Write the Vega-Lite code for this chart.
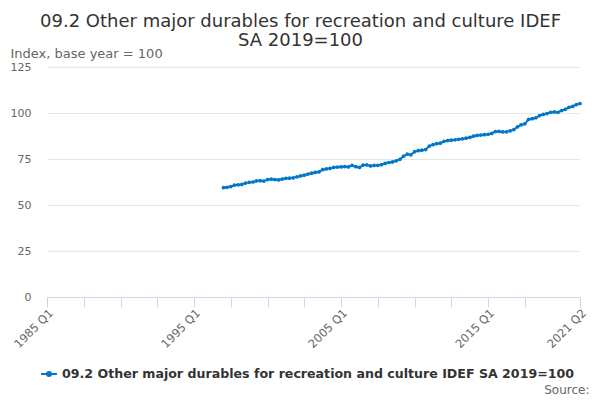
{
  "$schema": "https://vega.github.io/schema/vega-lite/v6.json",
  "width": 533,
  "height": 230,
  "autosize": {"type": "none"},
  "padding": {"left": 47, "top": 67, "right": 20, "bottom": 103},
  "background": "white",
  "config": {
    "font": "DejaVu Sans",
    "view": {"stroke": null}
  },
  "title": {
    "text": ["09.2 Other major durables for recreation and culture IDEF", "SA 2019=100"],
    "fontSize": 18,
    "fontWeight": "normal",
    "color": "#333333",
    "anchor": "middle",
    "frame": "group",
    "dx": -13,
    "offset": -3,
    "lineHeight": 19
  },
  "data": {
    "values": [
      {"date": "1997-01-01", "value": 59.4},
      {"date": "1997-04-01", "value": 59.6},
      {"date": "1997-07-01", "value": 60.0},
      {"date": "1997-10-01", "value": 60.8},
      {"date": "1998-01-01", "value": 61.0},
      {"date": "1998-04-01", "value": 61.2},
      {"date": "1998-07-01", "value": 61.9},
      {"date": "1998-10-01", "value": 62.3},
      {"date": "1999-01-01", "value": 62.5},
      {"date": "1999-04-01", "value": 63.1},
      {"date": "1999-07-01", "value": 63.2},
      {"date": "1999-10-01", "value": 63.0},
      {"date": "2000-01-01", "value": 63.8},
      {"date": "2000-04-01", "value": 64.0},
      {"date": "2000-07-01", "value": 63.8},
      {"date": "2000-10-01", "value": 63.6},
      {"date": "2001-01-01", "value": 64.1},
      {"date": "2001-04-01", "value": 64.5},
      {"date": "2001-07-01", "value": 64.6},
      {"date": "2001-10-01", "value": 64.8},
      {"date": "2002-01-01", "value": 65.3},
      {"date": "2002-04-01", "value": 65.8},
      {"date": "2002-07-01", "value": 66.2},
      {"date": "2002-10-01", "value": 66.8},
      {"date": "2003-01-01", "value": 67.3},
      {"date": "2003-04-01", "value": 67.7},
      {"date": "2003-07-01", "value": 68.0},
      {"date": "2003-10-01", "value": 69.2},
      {"date": "2004-01-01", "value": 69.6},
      {"date": "2004-04-01", "value": 69.9},
      {"date": "2004-07-01", "value": 70.4},
      {"date": "2004-10-01", "value": 70.6},
      {"date": "2005-01-01", "value": 70.7},
      {"date": "2005-04-01", "value": 70.9},
      {"date": "2005-07-01", "value": 70.7},
      {"date": "2005-10-01", "value": 71.5},
      {"date": "2006-01-01", "value": 70.8},
      {"date": "2006-04-01", "value": 70.4},
      {"date": "2006-07-01", "value": 71.7},
      {"date": "2006-10-01", "value": 71.8},
      {"date": "2007-01-01", "value": 71.2},
      {"date": "2007-04-01", "value": 71.5},
      {"date": "2007-07-01", "value": 71.6},
      {"date": "2007-10-01", "value": 71.9},
      {"date": "2008-01-01", "value": 72.6},
      {"date": "2008-04-01", "value": 73.1},
      {"date": "2008-07-01", "value": 73.4},
      {"date": "2008-10-01", "value": 74.0},
      {"date": "2009-01-01", "value": 74.8},
      {"date": "2009-04-01", "value": 76.5},
      {"date": "2009-07-01", "value": 77.6},
      {"date": "2009-10-01", "value": 77.3},
      {"date": "2010-01-01", "value": 79.0},
      {"date": "2010-04-01", "value": 79.5},
      {"date": "2010-07-01", "value": 79.8},
      {"date": "2010-10-01", "value": 80.1},
      {"date": "2011-01-01", "value": 82.0},
      {"date": "2011-04-01", "value": 82.8},
      {"date": "2011-07-01", "value": 83.3},
      {"date": "2011-10-01", "value": 83.6},
      {"date": "2012-01-01", "value": 84.6},
      {"date": "2012-04-01", "value": 85.0},
      {"date": "2012-07-01", "value": 85.2},
      {"date": "2012-10-01", "value": 85.4},
      {"date": "2013-01-01", "value": 85.7},
      {"date": "2013-04-01", "value": 86.0},
      {"date": "2013-07-01", "value": 86.3},
      {"date": "2013-10-01", "value": 86.7},
      {"date": "2014-01-01", "value": 87.4},
      {"date": "2014-04-01", "value": 87.8},
      {"date": "2014-07-01", "value": 88.0},
      {"date": "2014-10-01", "value": 88.2},
      {"date": "2015-01-01", "value": 88.4},
      {"date": "2015-04-01", "value": 88.9},
      {"date": "2015-07-01", "value": 89.9},
      {"date": "2015-10-01", "value": 90.0},
      {"date": "2016-01-01", "value": 89.7},
      {"date": "2016-04-01", "value": 89.8},
      {"date": "2016-07-01", "value": 90.3},
      {"date": "2016-10-01", "value": 91.0},
      {"date": "2017-01-01", "value": 92.5},
      {"date": "2017-04-01", "value": 93.6},
      {"date": "2017-07-01", "value": 94.1},
      {"date": "2017-10-01", "value": 96.5},
      {"date": "2018-01-01", "value": 96.9},
      {"date": "2018-04-01", "value": 97.4},
      {"date": "2018-07-01", "value": 98.6},
      {"date": "2018-10-01", "value": 99.2},
      {"date": "2019-01-01", "value": 99.7},
      {"date": "2019-04-01", "value": 100.4},
      {"date": "2019-07-01", "value": 100.6},
      {"date": "2019-10-01", "value": 100.4},
      {"date": "2020-01-01", "value": 101.3},
      {"date": "2020-04-01", "value": 102.0},
      {"date": "2020-07-01", "value": 103.1},
      {"date": "2020-10-01", "value": 103.6},
      {"date": "2021-01-01", "value": 104.6},
      {"date": "2021-04-01", "value": 105.1}
    ]
  },
  "mark": {
    "type": "line",
    "strokeWidth": 2,
    "point": {"filled": true, "size": 14}
  },
  "encoding": {
    "x": {
      "field": "date",
      "type": "temporal",
      "scale": {
        "type": "utc",
        "domain": [
          {"year": 1985, "month": 1, "date": 1, "utc": true},
          {"year": 2021, "month": 4, "date": 1, "utc": true}
        ]
      },
      "axis": {
        "title": "Source:",
        "titleX": 542,
        "titleY": 96,
        "titleAlign": "right",
        "titleBaseline": "alphabetic",
        "titleFontSize": 12,
        "titleFontWeight": "normal",
        "titleColor": "#666666",
        "values": [
          {"year": 1985, "month": 1, "date": 1, "utc": true},
          {"year": 1987, "month": 7, "date": 1, "utc": true},
          {"year": 1990, "month": 1, "date": 1, "utc": true},
          {"year": 1992, "month": 7, "date": 1, "utc": true},
          {"year": 1995, "month": 1, "date": 1, "utc": true},
          {"year": 1997, "month": 7, "date": 1, "utc": true},
          {"year": 2000, "month": 1, "date": 1, "utc": true},
          {"year": 2002, "month": 7, "date": 1, "utc": true},
          {"year": 2005, "month": 1, "date": 1, "utc": true},
          {"year": 2007, "month": 7, "date": 1, "utc": true},
          {"year": 2010, "month": 1, "date": 1, "utc": true},
          {"year": 2012, "month": 7, "date": 1, "utc": true},
          {"year": 2015, "month": 1, "date": 1, "utc": true},
          {"year": 2017, "month": 7, "date": 1, "utc": true},
          {"year": 2021, "month": 4, "date": 1, "utc": true}
        ],
        "format": "%Y Q%q",
        "labelExpr": "indexof(['1985 Q1','1995 Q1','2005 Q1','2015 Q1','2021 Q2'], datum.label) >= 0 ? datum.label : ''",
        "labelAngle": -45,
        "labelFontSize": 11.5,
        "labelColor": "#666666",
        "labelPadding": 0,
        "labelOverlap": false,
        "labelFlush": false,
        "grid": false,
        "domainColor": "#ccd6eb",
        "tickColor": "#ccd6eb",
        "tickSize": 10
      }
    },
    "y": {
      "field": "value",
      "type": "quantitative",
      "scale": {"domain": [0, 125], "nice": false},
      "axis": {
        "title": "Index, base year = 100",
        "titleAngle": 0,
        "titleAlign": "left",
        "titleBaseline": "alphabetic",
        "titleX": -37,
        "titleY": -10,
        "titleFontSize": 13,
        "titleFontWeight": "normal",
        "titleColor": "#666666",
        "values": [0, 25, 50, 75, 100, 125],
        "labelFontSize": 11,
        "labelColor": "#666666",
        "labelPadding": 16,
        "ticks": false,
        "tickSize": 0,
        "domain": false,
        "gridColor": "#e6e6e6"
      }
    },
    "color": {
      "datum": "09.2 Other major durables for recreation and culture IDEF SA 2019=100",
      "type": "nominal",
      "scale": {"range": ["#0077c8"]},
      "legend": {
        "title": null,
        "orient": "none",
        "legendX": -7,
        "legendY": 298,
        "labelFontSize": 12.6,
        "labelFontWeight": "bold",
        "labelColor": "#333333",
        "labelLimit": 600,
        "symbolType": "M-1,0L1,0M-0.25,0A0.25,0.25,0,1,0,0.25,0A0.25,0.25,0,1,0,-0.25,0",
        "symbolSize": 256,
        "symbolStrokeWidth": 2,
        "symbolFillColor": "#0077c8",
        "symbolStrokeColor": "#0077c8"
      }
    }
  }
}
